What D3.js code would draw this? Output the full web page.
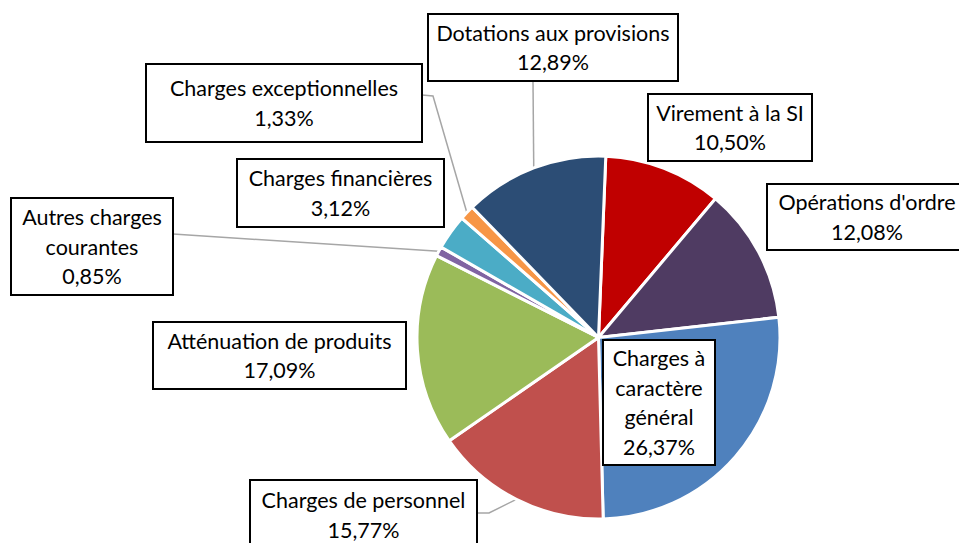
<!DOCTYPE html>
<html><head><meta charset="utf-8">
<script src="https://cdn.jsdelivr.net/npm/d3@7/dist/d3.min.js"></script>
<style>html,body{margin:0;padding:0;background:#fff;}svg{display:block;}</style>
</head><body>
<svg id="chart" width="959" height="543"></svg>
<script>
// ---- data ----
const categories = ["Virement à la SI","Opérations d'ordre","Charges à caractère général","Charges de personnel","Atténuation de produits","Autres charges courantes","Charges financières","Charges exceptionnelles","Dotations aux provisions"];
const values = [10.50, 12.08, 26.37, 15.77, 17.09, 0.85, 3.12, 1.33, 12.89];
const labelLines = [["Virement à la SI"],["Opérations d'ordre"],["Charges à","caractère","général"],["Charges de personnel"],["Atténuation de produits"],["Autres charges","courantes"],["Charges financières"],["Charges exceptionnelles"],["Dotations aux provisions"]];
const colors = ["#C00000","#4F3B62","#4F81BD","#C0504D","#9BBB59","#8064A2","#4BACC6","#F79646","#2C4D75"];

// ---- layout (label boxes: left, top, width, height; leader: start points) ----
const boxes = [
  {x:648,y:94,w:164,h:67},
  {x:767,y:184,w:200,h:66},
  {x:603,y:340,w:112,h:125},
  {x:250,y:480,w:227,h:70},
  {x:153,y:322,w:253,h:67},
  {x:11,y:198,w:162,h:97},
  {x:237,y:159,w:207,h:68},
  {x:146,y:64,w:276,h:78},
  {x:428,y:14,w:250,h:67}
];
const leaders = [null,null,null,[[478,513],[489,513]],null,[[173,234]],null,[[422,95],[433,96]],[[533,81]]];

const cx = 598.5, cy = 337.5, R = 181.5;
const startDeg = 2.3;
const fontFamily = "Lato, 'Open Sans', sans-serif";
const fontSize = 21.5, lineH = 29.5;

const svg = d3.select("#chart");
const pie = d3.pie().sort(null).value(d => d)
  .startAngle(startDeg*Math.PI/180).endAngle((360+startDeg)*Math.PI/180);
const arcs = pie(values);
const arc = d3.arc().innerRadius(0).outerRadius(R);

// leader lines (under pie)
const gl = svg.append("g");
arcs.forEach((a,i) => {
  if (!leaders[i]) return;
  const m = (a.startAngle + a.endAngle)/2;
  const end = [cx + R*Math.sin(m), cy - R*Math.cos(m)];
  const pts = leaders[i].concat([end]);
  gl.append("path").attr("d", d3.line()(pts))
    .attr("fill","none").attr("stroke","#A6A6A6").attr("stroke-width",1.5);
});

const gp = svg.append("g").attr("transform",`translate(${cx},${cy})`);
gp.selectAll("path").data(arcs).join("path")
  .attr("d", arc)
  .attr("fill", (d,i) => colors[i])
  .attr("stroke","#fff").attr("stroke-width",3).attr("stroke-linejoin","round");

// labels
const fmt = v => v.toFixed(2).replace(".", ",") + "%";
const glab = svg.append("g");
arcs.forEach((a,i) => {
  const b = boxes[i];
  const g = glab.append("g");
  g.append("rect").attr("x",b.x).attr("y",b.y).attr("width",b.w).attr("height",b.h)
    .attr("fill","#fff").attr("stroke","#000").attr("stroke-width",2);
  const lines = labelLines[i].concat([fmt(values[i])]);
  const midY = b.y + b.h/2;
  const y0 = midY - (lines.length-1)*lineH/2;
  lines.forEach((t,k) => {
    g.append("text").attr("x", b.x + b.w/2).attr("y", y0 + k*lineH)
      .attr("text-anchor","middle").attr("dominant-baseline","central")
      .attr("font-family", fontFamily).attr("font-size", fontSize)
      .attr("fill","#000").text(t);
  });
});
</script>
</body></html>
